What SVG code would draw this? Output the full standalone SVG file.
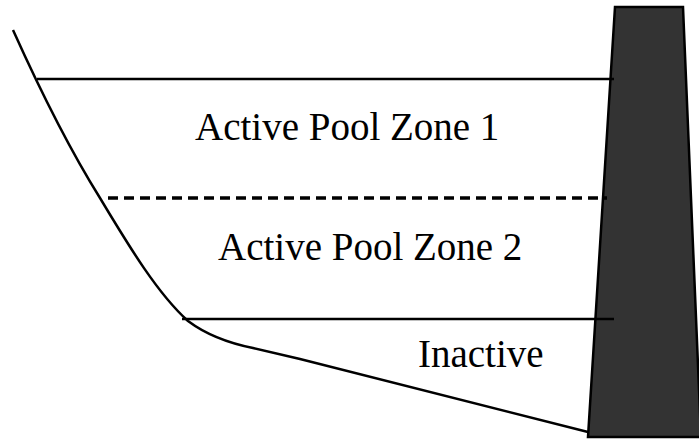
<svg xmlns="http://www.w3.org/2000/svg" width="699" height="440" viewBox="0 0 699 440">
<style>
.lbl{font-family:'Liberation Serif','Times New Roman',serif;font-size:39px;fill:#000}
.ln{stroke:#000;stroke-width:2.5;fill:none}
.dash{stroke:#000;stroke-width:3.5;stroke-dasharray:10,6;fill:none}
</style>
<rect width="699" height="440" fill="#fff"/>
<g id="bank">
<path class="ln" d="M13,30 C40,90 70,150 100,198 C130,248 158,294 188,321 C208,336 233,344 253,348 L300,359 L588,432"/>
</g>
<g id="dam">
<polygon points="615,7 683,7 701,437 588,437" fill="#333" stroke="#000" stroke-width="2.5"/>
</g>
<g id="levels">
<line class="ln" x1="37" y1="79" x2="614" y2="79"/>
<line class="dash" x1="108" y1="198" x2="607" y2="198"/>
<line class="ln" x1="182" y1="319" x2="614" y2="319"/>
</g>
<g id="labels">
<text class="lbl" x="195" y="140">Active Pool Zone 1</text>
<text class="lbl" x="218" y="260">Active Pool Zone 2</text>
<text class="lbl" x="418" y="367">Inactive</text>
</g>
</svg>
